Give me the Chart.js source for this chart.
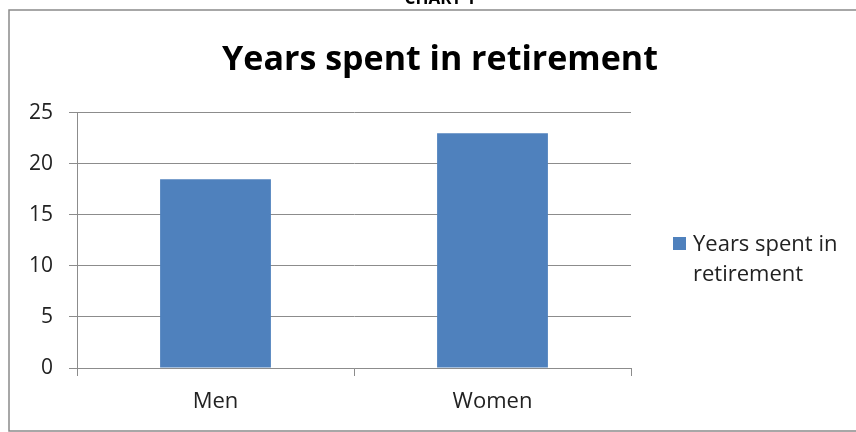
<!DOCTYPE html>
<html>
<head>
<meta charset="utf-8">
<script src="https://cdn.jsdelivr.net/npm/chart.js@4/dist/chart.umd.min.js"></script>
<style>
  html, body { margin: 0; padding: 0; background: #fff; }
  #wrap { width: 856px; height: 432px; position: relative; }
</style>
</head>
<body>
<div id="wrap"><canvas id="chart" width="856" height="432"></canvas></div>
<script>
const caption = 'CHART 1';
const chartTitle = 'Years spent in retirement';
const categories = ['Men', 'Women'];
const seriesLabel = 'Years spent in retirement';
const yearsInRetirement = [18.5, 23];
const yMin = 0;
const yMax = 25;
const yStep = 5;

const FONT = "'Open Sans', sans-serif";
const BAR_BLUE = '#4F81BD';
const GRID_GRAY = '#8c8c8c';
const TEXT_DARK = '#222222';

Chart.defaults.font.family = FONT;
Chart.defaults.color = TEXT_DARK;

// frame around the chart plus the cut-off caption above it
const framePlugin = {
  id: 'frame',
  beforeDraw(chart) {
    const ctx = chart.ctx;
    ctx.save();
    ctx.fillStyle = '#fff';
    ctx.fillRect(0, 0, chart.width, chart.height);
    ctx.strokeStyle = '#8a8a8a';
    ctx.lineWidth = 1.5;
    ctx.strokeRect(9, 10, chart.width + 20, 421);
    ctx.fillStyle = '#000';
    ctx.font = 'bold 17px ' + FONT;
    ctx.textAlign = 'center';
    ctx.textBaseline = 'alphabetic';
    ctx.fillText(caption, 440, 4);
    ctx.restore();
  }
};

// legend on the right with wrapped label text
const sideLegend = {
  id: 'sideLegend',
  afterDraw(chart) {
    const ctx = chart.ctx;
    const area = chart.chartArea;
    const ds = chart.data.datasets[0];
    const boxX = area.right + 42;
    const boxY = 237;
    const textX = boxX + 20;
    ctx.save();
    ctx.fillStyle = ds.backgroundColor;
    ctx.fillRect(boxX, boxY, 13, 13);
    ctx.font = '22px ' + FONT;
    ctx.fillStyle = TEXT_DARK;
    ctx.textAlign = 'left';
    ctx.textBaseline = 'alphabetic';
    const words = ds.label.split(' ');
    const lines = [];
    let line = '';
    words.forEach(w => {
      const test = line ? line + ' ' + w : w;
      if (line && ctx.measureText(test).width > 160) {
        lines.push(line);
        line = w;
      } else {
        line = test;
      }
    });
    if (line) lines.push(line);
    lines.forEach((l, i) => ctx.fillText(l, textX, 251 + i * 30));
    ctx.restore();
  }
};

new Chart(document.getElementById('chart'), {
  type: 'bar',
  data: {
    labels: categories,
    datasets: [{
      label: seriesLabel,
      data: yearsInRetirement,
      backgroundColor: BAR_BLUE,
      borderWidth: 0,
      barPercentage: 0.4,
      categoryPercentage: 1.0,
      yAxisID: 'y',
    }],
  },
  options: {
    responsive: false,
    animation: false,
    events: [],
    layout: { padding: { left: 24, right: 0, top: 0, bottom: 0 } },
    plugins: {
      legend: { display: false },
      tooltip: { enabled: false },
      title: {
        display: true,
        text: chartTitle,
        color: '#000',
        font: { size: 34, weight: 'bold', lineHeight: 1.2 },
        padding: { top: 40, bottom: 32 },
      },
    },
    scales: {
      x: {
        offset: true,
        grid: {
          offset: true,
          drawOnChartArea: false,
          drawTicks: true,
          tickLength: 8,
          color: GRID_GRAY,
        },
        border: { color: GRID_GRAY },
        ticks: { color: TEXT_DARK, font: { size: 22 }, padding: 13 },
        afterFit: s => { s.height = 64; },
      },
      y: {
        min: yMin,
        max: yMax,
        ticks: { stepSize: yStep, color: TEXT_DARK, font: { size: 21 }, padding: 16 },
        grid: { color: GRID_GRAY, tickLength: 8 },
        border: { color: GRID_GRAY },
        afterFit: s => { s.width = 53; },
      },
      spacer: {
        type: 'linear',
        position: 'right',
        display: true,
        grid: { display: false },
        border: { display: false },
        ticks: { display: false },
        afterFit: s => { s.width = 225; },
      },
    },
  },
  plugins: [framePlugin, sideLegend],
});
</script>
</body>
</html>
